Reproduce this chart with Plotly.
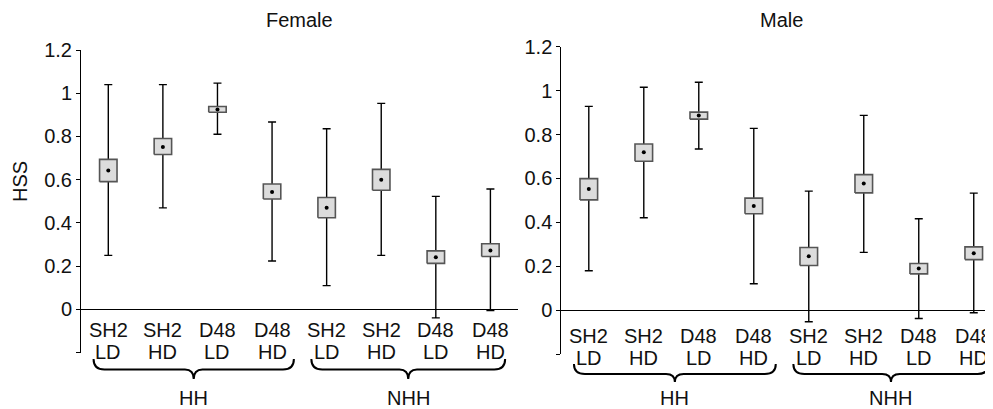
import plotly.graph_objects as go

# ---------------- data ----------------
conditions = ["SH2 LD", "SH2 HD", "D48 LD", "D48 HD", "SH2 LD", "SH2 HD", "D48 LD", "D48 HD"]
groups = ["HH", "NHH"]
panels = ["Female", "Male"]

female_mean = [0.643, 0.751, 0.925, 0.543, 0.470, 0.600, 0.241, 0.273]
female_box_low = [0.591, 0.717, 0.912, 0.511, 0.424, 0.551, 0.213, 0.245]
female_box_high = [0.694, 0.791, 0.939, 0.580, 0.518, 0.648, 0.271, 0.304]
female_whisk_low = [0.250, 0.470, 0.810, 0.224, 0.110, 0.250, -0.039, -0.005]
female_whisk_high = [1.040, 1.040, 1.047, 0.867, 0.836, 0.953, 0.523, 0.557]

male_mean = [0.552, 0.719, 0.887, 0.474, 0.245, 0.577, 0.189, 0.259]
male_box_low = [0.502, 0.678, 0.870, 0.439, 0.203, 0.534, 0.165, 0.230]
male_box_high = [0.599, 0.757, 0.902, 0.510, 0.285, 0.617, 0.212, 0.288]
male_whisk_low = [0.179, 0.421, 0.734, 0.120, -0.053, 0.263, -0.038, -0.012]
male_whisk_high = [0.928, 1.015, 1.038, 0.828, 0.542, 0.887, 0.416, 0.533]

y_tick_values = [-0.2, 0, 0.2, 0.4, 0.6, 0.8, 1.0, 1.2]
y_tick_labels = ["", "0", "0.2", "0.4", "0.6", "0.8", "1", "1.2"]

# ---------------- layout helpers ----------------
W, H = 993, 409
OFF = 8  # page offset of the plot div
FONT = "Liberation Sans"
TXT = "#111111"


def px_x(px):
    return (px - OFF) / W


def py(px):
    return 1 - (px - OFF) / H


panel_cfg = [
    dict(name="Female", xa="x", ya="y", xdom=[px_x(81), px_x(517.7)], xr=[-0.5, 7.5],
         ydom=[py(352.7), py(50)], l1=330.0, l2=352.3, btop=359.0, bmid=369.5, btip=379.0,
         data=(female_mean, female_box_low, female_box_high, female_whisk_low, female_whisk_high)),
    dict(name="Male", xa="x2", ya="y2", xdom=[px_x(561.3), px_x(993)], xr=[-0.5, 7.35],
         ydom=[py(354.0), py(46.7)], l1=335.5, l2=357.9, btop=364.0, bmid=374.0, btip=382.0,
         data=(male_mean, male_box_low, male_box_high, male_whisk_low, male_whisk_high)),
]

brace_spans = [(-0.27, 3.40), (3.72, 7.27)]
BOX_HALF = 0.16

fig = go.Figure()
annotations = []
shapes = []

for cfg in panel_cfg:
    mean, blo, bhi, wlo, whi = cfg["data"]
    xs = list(range(len(conditions)))
    # whiskers
    fig.add_trace(go.Scatter(
        x=xs, y=mean, mode="markers", marker=dict(size=1, color="black"),
        error_y=dict(type="data", symmetric=False,
                     array=[h - m for h, m in zip(whi, mean)],
                     arrayminus=[m - l for m, l in zip(mean, wlo)],
                     color="black", thickness=1.4, width=4),
        xaxis=cfg["xa"], yaxis=cfg["ya"], showlegend=False, hoverinfo="skip"))
    # boxes
    bx, by = [], []
    for i in xs:
        bx += [i - BOX_HALF, i + BOX_HALF, i + BOX_HALF, i - BOX_HALF, i - BOX_HALF, None]
        by += [blo[i], blo[i], bhi[i], bhi[i], blo[i], None]
    fig.add_trace(go.Scatter(
        x=bx, y=by, mode="lines", fill="toself", fillcolor="#dcdcdc",
        line=dict(color="#555555", width=1.6),
        xaxis=cfg["xa"], yaxis=cfg["ya"], showlegend=False, hoverinfo="skip"))
    # means
    fig.add_trace(go.Scatter(
        x=xs, y=mean, mode="markers", marker=dict(size=4, color="black"),
        xaxis=cfg["xa"], yaxis=cfg["ya"], showlegend=False))

    # category labels (two lines)
    for i, c in enumerate(conditions):
        top, bottom = c.split(" ")
        annotations.append(dict(x=i, y=py(cfg["l1"]), xref=cfg["xa"], yref="paper",
                                text=top, showarrow=False, yanchor="middle",
                                font=dict(size=20, color=TXT, family=FONT)))
        annotations.append(dict(x=i, y=py(cfg["l2"]), xref=cfg["xa"], yref="paper",
                                text=bottom, showarrow=False, yanchor="middle",
                                font=dict(size=20, color=TXT, family=FONT)))

    # braces and group labels
    for g, (x0, x1) in zip(groups, brace_spans):
        xc = (x0 + x1) / 2
        yt, ym, yb = py(cfg["btop"]), py(cfg["bmid"]), py(cfg["btip"])
        d, dm = 0.2, 0.16
        path = (f"M {x0},{yt} Q {x0},{ym} {x0 + d},{ym} L {xc - dm},{ym} "
                f"Q {xc},{ym} {xc},{yb} Q {xc},{ym} {xc + dm},{ym} "
                f"L {x1 - d},{ym} Q {x1},{ym} {x1},{yt}")
        shapes.append(dict(type="path", path=path, xref=cfg["xa"], yref="paper",
                           line=dict(color="black", width=2)))
        annotations.append(dict(x=xc, y=py(398), xref=cfg["xa"], yref="paper",
                                text=g, showarrow=False, yanchor="middle",
                                font=dict(size=20, color=TXT, family=FONT)))

    # panel title
    annotations.append(dict(x=3.5, y=py(20), xref=cfg["xa"], yref="paper",
                            text=cfg["name"], showarrow=False, yanchor="middle",
                            font=dict(size=20, color=TXT, family=FONT)))

# y-axis title
annotations.append(dict(x=px_x(20), y=py(182), xref="paper", yref="paper", text="HSS",
                        textangle=-90, showarrow=False, xanchor="center", yanchor="middle",
                        font=dict(size=20, color=TXT, family=FONT)))

yaxis_common = dict(range=[-0.2, 1.2], showline=True, linecolor="black", linewidth=1,
                    ticks="outside", ticklen=4, tickcolor="black", tickwidth=1,
                    tickvals=y_tick_values, ticktext=y_tick_labels, automargin=False,
                    showgrid=False, zeroline=True, zerolinecolor="black", zerolinewidth=1.2,
                    tickfont=dict(size=20, color=TXT, family=FONT))
xaxis_common = dict(visible=False, showgrid=False, zeroline=False, automargin=False)

fig.update_layout(
    width=W, height=H, margin=dict(l=0, r=0, t=0, b=0, pad=0, autoexpand=False),
    paper_bgcolor="white", plot_bgcolor="white",
    font=dict(family=FONT, color=TXT),
    xaxis=dict(domain=panel_cfg[0]["xdom"], range=panel_cfg[0]["xr"], anchor="y", **xaxis_common),
    yaxis=dict(domain=panel_cfg[0]["ydom"], anchor="x", **yaxis_common),
    xaxis2=dict(domain=panel_cfg[1]["xdom"], range=panel_cfg[1]["xr"], anchor="y2", **xaxis_common),
    yaxis2=dict(domain=panel_cfg[1]["ydom"], anchor="x2", **yaxis_common),
    annotations=annotations, shapes=shapes,
)

fig.write_html("out.html")
